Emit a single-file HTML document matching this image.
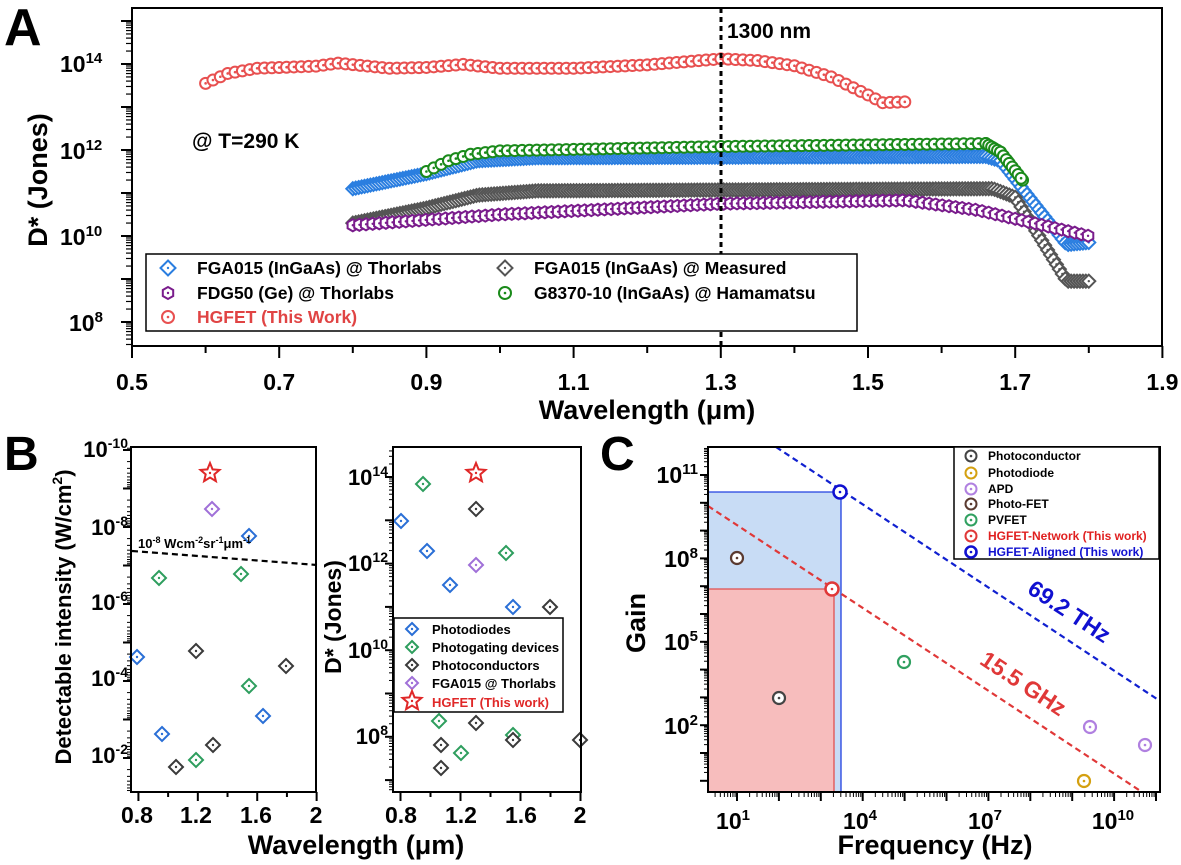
<!DOCTYPE html>
<html><head><meta charset="utf-8">
<style>
html,body{margin:0;padding:0;background:#fff;}
svg{display:block;font-family:"Liberation Sans",Arial,sans-serif;font-weight:bold;}
</style></head>
<body>
<svg id="s" width="1181" height="865" viewBox="0 0 1181 865" xmlns="http://www.w3.org/2000/svg">
<rect width="1181" height="865" fill="#fff"/>
<text x="4" y="45" font-size="52">A</text>
<text x="4" y="470" font-size="48">B</text>
<text x="600" y="470" font-size="48">C</text>

<g id="A"></g>
<rect x="132" y="8" width="1030" height="338" fill="none" stroke="#000" stroke-width="2"/>
<line x1="721" y1="8" x2="721" y2="346" stroke="#000" stroke-width="3" stroke-dasharray="5,4"/>
<text x="727" y="38" font-size="21">1300 nm</text>
<text x="192" y="148" font-size="21">@ T=290 K</text>
<g font-size="23">
<text x="60" y="72">10<tspan font-size="15" dy="-9">14</tspan></text>
<text x="60" y="159">10<tspan font-size="15" dy="-9">12</tspan></text>
<text x="60" y="245">10<tspan font-size="15" dy="-9">10</tspan></text>
<text x="69" y="331">10<tspan font-size="15" dy="-9">8</tspan></text>
</g>
<g font-size="23" text-anchor="middle" id="Axl"></g>
<text x="647" y="419" font-size="27" text-anchor="middle">Wavelength (μm)</text>
<text transform="translate(47,180) rotate(-90)" font-size="27" text-anchor="middle">D* (Jones)</text>
<rect x="146" y="254" width="711" height="77" fill="#fff" stroke="#000" stroke-width="1.5"/>
<g id="Aleg"></g>
<g font-size="17.5">
<text x="197" y="274">FGA015 (InGaAs) @ Thorlabs</text>
<text x="197" y="299">FDG50 (Ge) @ Thorlabs</text>
<text x="197" y="323" fill="#e04444">HGFET (This Work)</text>
<text x="534" y="274">FGA015 (InGaAs)  @ Measured</text>
<text x="534" y="299">G8370-10 (InGaAs)  @ Hamamatsu</text>
</g>

<g id="B"></g>
<rect x="131" y="447" width="185" height="345" fill="none" stroke="#000" stroke-width="2"/>
<rect x="393" y="447" width="188" height="345" fill="none" stroke="#000" stroke-width="2"/>
<line x1="132" y1="551" x2="317" y2="565" stroke="#000" stroke-width="2.2" stroke-dasharray="6,4"/>
<text x="138" y="548" font-size="13">10<tspan font-size="9" dy="-5">-8</tspan><tspan dy="5"> Wcm</tspan><tspan font-size="9" dy="-5">-2</tspan><tspan dy="5">sr</tspan><tspan font-size="9" dy="-5">-1</tspan><tspan dy="5">μm</tspan><tspan font-size="9" dy="-5">-1</tspan></text>
<g font-size="22" text-anchor="end">
<text x="128" y="457">10<tspan font-size="14" dy="-9">-10</tspan></text>
<text x="128" y="535">10<tspan font-size="14" dy="-9">-8</tspan></text>
<text x="128" y="610">10<tspan font-size="14" dy="-9">-6</tspan></text>
<text x="128" y="686">10<tspan font-size="14" dy="-9">-4</tspan></text>
<text x="128" y="763">10<tspan font-size="14" dy="-9">-2</tspan></text>
<text x="388" y="485">10<tspan font-size="14" dy="-9">14</tspan></text>
<text x="388" y="571">10<tspan font-size="14" dy="-9">12</tspan></text>
<text x="388" y="658">10<tspan font-size="14" dy="-9">10</tspan></text>
<text x="388" y="744">10<tspan font-size="14" dy="-9">8</tspan></text>
</g>
<g font-size="23" text-anchor="middle">
<text x="137" y="823">0.8</text><text x="196" y="823">1.2</text><text x="256" y="823">1.6</text><text x="316" y="823">2</text>
<text x="401" y="823">0.8</text><text x="461" y="823">1.2</text><text x="521" y="823">1.6</text><text x="580" y="823">2</text>
</g>
<text x="356" y="854" font-size="27" text-anchor="middle">Wavelength (μm)</text>
<text transform="translate(71,617) rotate(-90)" font-size="22" text-anchor="middle">Detectable intensity (W/cm<tspan font-size="14" dy="-9">2</tspan><tspan dy="9">)</tspan></text>
<text transform="translate(341,617) rotate(-90)" font-size="23" text-anchor="middle">D* (Jones)</text>
<rect x="394" y="618" width="169" height="94" fill="#fff" stroke="#000" stroke-width="1.5"/>
<g id="Bleg"></g>
<g font-size="13">
<text x="432" y="634">Photodiodes</text>
<text x="432" y="652">Photogating devices</text>
<text x="432" y="670">Photoconductors</text>
<text x="432" y="688">FGA015 @ Thorlabs</text>
<text x="432" y="707" fill="#e02828">HGFET (This work)</text>
</g>

<rect x="708" y="492" width="133" height="300" fill="#c8dcf5"/>
<rect x="708" y="589" width="126" height="203" fill="#f7bdbd"/>
<line x1="841" y1="492" x2="841" y2="792" stroke="#2040e0" stroke-width="1.3"/>
<line x1="708" y1="492" x2="841" y2="492" stroke="#2040e0" stroke-width="1.3"/>
<line x1="834" y1="589" x2="834" y2="792" stroke="#e05050" stroke-width="1.3"/>
<line x1="708" y1="589" x2="834" y2="589" stroke="#e05050" stroke-width="1.3"/>
<line x1="776" y1="447" x2="1160" y2="701" stroke="#1020d0" stroke-width="2.2" stroke-dasharray="6,4"/>
<line x1="708" y1="506" x2="1142" y2="792" stroke="#e03838" stroke-width="2.2" stroke-dasharray="6,4"/>
<g id="C"></g>
<rect x="708" y="447" width="452" height="345" fill="none" stroke="#000" stroke-width="2"/>
<rect x="954" y="447" width="205" height="112" fill="#fff" stroke="#000" stroke-width="1.5"/>
<g id="Cleg"></g>
<g font-size="12">
<text x="988" y="460">Photoconductor</text>
<text x="988" y="477">Photodiode</text>
<text x="988" y="493">APD</text>
<text x="988" y="508">Photo-FET</text>
<text x="988" y="524">PVFET</text>
<text x="988" y="540" fill="#e02020">HGFET-Network (This work)</text>
<text x="988" y="556" fill="#1010d0">HGFET-Aligned (This work)</text>
</g>
<text transform="translate(1065,618) rotate(33.5)" font-size="23" fill="#1010d0" text-anchor="middle">69.2 THz</text>
<text transform="translate(1019,690) rotate(33.5)" font-size="23" fill="#e03838" text-anchor="middle">15.5 GHz</text>
<g font-size="23" text-anchor="end">
<text x="698" y="483">10<tspan font-size="15" dy="-9">11</tspan></text>
<text x="698" y="567">10<tspan font-size="15" dy="-9">8</tspan></text>
<text x="698" y="650">10<tspan font-size="15" dy="-9">5</tspan></text>
<text x="698" y="734">10<tspan font-size="15" dy="-9">2</tspan></text>
</g>
<g font-size="23" text-anchor="middle">
<text x="733" y="829">10<tspan font-size="15" dy="-9">1</tspan></text>
<text x="860" y="829">10<tspan font-size="15" dy="-9">4</tspan></text>
<text x="985" y="829">10<tspan font-size="15" dy="-9">7</tspan></text>
<text x="1113" y="829">10<tspan font-size="15" dy="-9">10</tspan></text>
</g>
<text x="935" y="854" font-size="27" text-anchor="middle">Frequency (Hz)</text>
<text transform="translate(645,623) rotate(-90)" font-size="27" text-anchor="middle">Gain</text>
</svg>
<script>
var NS="http://www.w3.org/2000/svg";
function el(p,t,a){var e=document.createElementNS(NS,t);for(var k in a)e.setAttribute(k,a[k]);p.appendChild(e);return e;}
function circ(g,x,y,c,r,sw){r=r||5.5;sw=sw||2;el(g,'circle',{cx:x,cy:y,r:r,fill:'#fff',stroke:c,'stroke-width':sw});el(g,'circle',{cx:x,cy:y,r:1.3,fill:c});}
function diam(g,x,y,c,s,sw){s=s||6.5;sw=sw||2;el(g,'polygon',{points:(x)+','+(y-s)+' '+(x+s)+','+y+' '+x+','+(y+s)+' '+(x-s)+','+y,fill:'#fff',stroke:c,'stroke-width':sw});el(g,'circle',{cx:x,cy:y,r:1.2,fill:c});}
function hexa(g,x,y,c){var p=[];for(var i=0;i<6;i++){var a=Math.PI/3*i+Math.PI/6;p.push((x+6*Math.cos(a)).toFixed(1)+','+(y+6*Math.sin(a)).toFixed(1));}el(g,'polygon',{points:p.join(' '),fill:'#fff',stroke:c,'stroke-width':2});el(g,'circle',{cx:x,cy:y,r:1.2,fill:c});}
function star(g,x,y,c){var p=[];for(var i=0;i<10;i++){var r=i%2?4.5:10;var a=-Math.PI/2+i*Math.PI/5;p.push((x+r*Math.cos(a)).toFixed(1)+','+(y+r*Math.sin(a)).toFixed(1));}el(g,'polygon',{points:p.join(' '),fill:'#fff',stroke:c,'stroke-width':2});el(g,'circle',{cx:x,cy:y,r:1.2,fill:c});}
var S=document.getElementById('s');
var A=document.getElementById('A');
function ax(l){return 132+(l-0.5)*736;}
function ay(v){return 64+(14-v)*43;}
function interp(pts,l){for(var i=0;i<pts.length-1;i++){if(l<=pts[i+1][0]){var t=(l-pts[i][0])/(pts[i+1][0]-pts[i][0]);return pts[i][1]+t*(pts[i+1][1]-pts[i][1]);}}return pts[pts.length-1][1];}
function series(pts,step,fn,c){var a=pts[0][0],b=pts[pts.length-1][0];for(var l=a;l<=b+1e-9;l+=step){fn(A,ax(l),ay(interp(pts,l)),c);}}
var blue=[[0.8,11.1],[0.9,11.45],[0.97,11.75],[1.05,11.82],[1.66,11.85],[1.68,11.75],[1.77,9.8],[1.8,9.85]];
var gray=[[0.8,10.3],[0.9,10.65],[0.97,10.95],[1.05,11.05],[1.67,11.1],[1.7,10.9],[1.77,8.95],[1.8,8.95]];
var purp=[[0.8,10.25],[1.0,10.5],[1.3,10.75],[1.55,10.83],[1.65,10.6],[1.8,10.0]];
var grn=[[0.9,11.5],[0.93,11.75],[0.96,11.9],[1.0,11.98],[1.3,12.08],[1.66,12.15],[1.68,11.95],[1.71,11.3]];
var red=[[0.6,13.55],[0.63,13.78],[0.67,13.9],[0.75,13.95],[0.78,14.02],[0.85,13.9],[0.9,13.92],[0.95,13.99],[1.0,13.9],[1.1,13.9],[1.2,13.98],[1.3,14.12],[1.35,14.08],[1.4,13.96],[1.45,13.7],[1.5,13.28],[1.52,13.1],[1.55,13.12]];
series(blue,0.004,diam,'#2a7ee0');
series(gray,0.004,diam,'#555');
series(purp,0.009,hexa,'#7a1c8c');
series(grn,0.01,circ,'#1a8a1a');
series(grn.slice(5),0.004,circ,'#1a8a1a');
series(red,0.01,circ,'#e85050');
for(var d=7;d<=15;d++){for(var m=1;m<10;m++){var v=d+Math.log10(m);var y=ay(v);if(y<9||y>345)continue;el(S,'line',{x1:m==1?121:126,y1:y,x2:132,y2:y,stroke:'#000','stroke-width':m==1?2:1.2});}}
var Axl=document.getElementById('Axl');
for(var l=0.5;l<=1.91;l+=0.1){var x=ax(l);var maj=Math.round(l*10)%2==1;el(S,'line',{x1:x,y1:346,x2:x,y2:maj?358:353,stroke:'#000','stroke-width':2});if(maj){var t=el(Axl,'text',{x:x,y:390});t.textContent=l.toFixed(1);}}
var AL=document.getElementById('Aleg');
diam(AL,168,268,'#2a7ee0',7.5);hexa(AL,168,293,'#7a1c8c');circ(AL,168,317,'#e85050',6);
diam(AL,505,268,'#555',7.5);circ(AL,505,293,'#1a8a1a',6);
var B=document.getElementById('B');
var cb='#2a6fd6',cg='#2e9e5e',ck='#3a3a3a',cp='#a070d8',cr='#e02828';
var BL=[[cb,137,657],[cb,162,734],[cb,249,536],[cb,263,716],[cg,159,578],[cg,241,574],[cg,249,686],[cg,196,760],[ck,196,651],[ck,286,666],[ck,213,745],[ck,176,767],[cp,212,509]];
BL.forEach(function(p){diam(B,p[1],p[2],p[0],7);});star(B,210,473,cr);
var BR=[[cg,423,484],[ck,476,509],[cb,401,521],[cb,427,551],[cg,506,553],[cp,476,565],[cb,450,585],[cb,513,607],[ck,550,607],[cg,439,721],[ck,476,723],[cg,513,735],[ck,513,740],[ck,580,740],[ck,441,745],[cg,461,753],[ck,441,768]];
BR.forEach(function(p){diam(B,p[1],p[2],p[0],7);});star(B,476,473,cr);
function blY(v){return 450+(v+10)*38.5;}
for(var d=-11;d<=0;d++){for(var m=1;m<10;m++){var v=d+Math.log10(m);var y=blY(v);if(y<448||y>791)continue;el(S,'line',{x1:131,y1:y,x2:m==1?123:127,y2:y,stroke:'#000','stroke-width':m==1?2:1});}}
function brY(v){return 477+(14-v)*43.3;}
for(var d=6;d<=15;d++){for(var m=1;m<10;m++){var v=d+Math.log10(m);var y=brY(v);if(y<448||y>791)continue;el(S,'line',{x1:393,y1:y,x2:m==1?385:389,y2:y,stroke:'#000','stroke-width':m==1?2:1});}}
for(var l=0.8;l<=2.01;l+=0.2){var x1=131+(l-0.75)*148.5,x2=393+(l-0.75)*150;var mj=Math.round(l*10)%4==0;[x1,x2].forEach(function(x){el(S,'line',{x1:x,y1:792,x2:x,y2:mj?801:797,stroke:'#000','stroke-width':2});});}
var BLg=document.getElementById('Bleg');
diam(BLg,412,629,cb,6);diam(BLg,412,647,cg,6);diam(BLg,412,665,ck,6);diam(BLg,412,683,cp,6);star(BLg,412,701,cr);
var C=document.getElementById('C');
function cx(lf){return 737+(lf-1)*41.9;}
function cy(lg){return 475+(11-lg)*27.8;}
circ(C,840,492,'#1010d0',6.5,2.5);circ(C,832,589,'#e03838',6.5,2.5);
circ(C,737,558,'#5a3a30',6,2.2);circ(C,779,698,'#444',6,2.2);circ(C,904,662,'#30a060',6,2.2);
circ(C,1090,727,'#b080e0',6,2.2);circ(C,1145,745,'#b080e0',6,2.2);circ(C,1084,781,'#d4a010',6,2.2);
for(var d=0;d<=12;d++){for(var m=1;m<10;m++){var v=d+Math.log10(m);var x=cx(v);if(x>709&&x<1159)el(S,'line',{x1:x,y1:792,x2:x,y2:m==1?801:797,stroke:'#000','stroke-width':m==1?2:1});var y=cy(v);if(y>448&&y<791)el(S,'line',{x1:708,y1:y,x2:m==1?700:704,y2:y,stroke:'#000','stroke-width':m==1?2:1});}}
var CL=document.getElementById('Cleg');
var cc=['#444','#d4a010','#b080e0','#5a3a30','#30a060','#e03838','#1010d0'],cyy=[456,473,489,504,520,536,552];
cc.forEach(function(c,i){circ(CL,971,cyy[i],c,5.5,i==6?2.6:2);});
</script>
</body></html>
